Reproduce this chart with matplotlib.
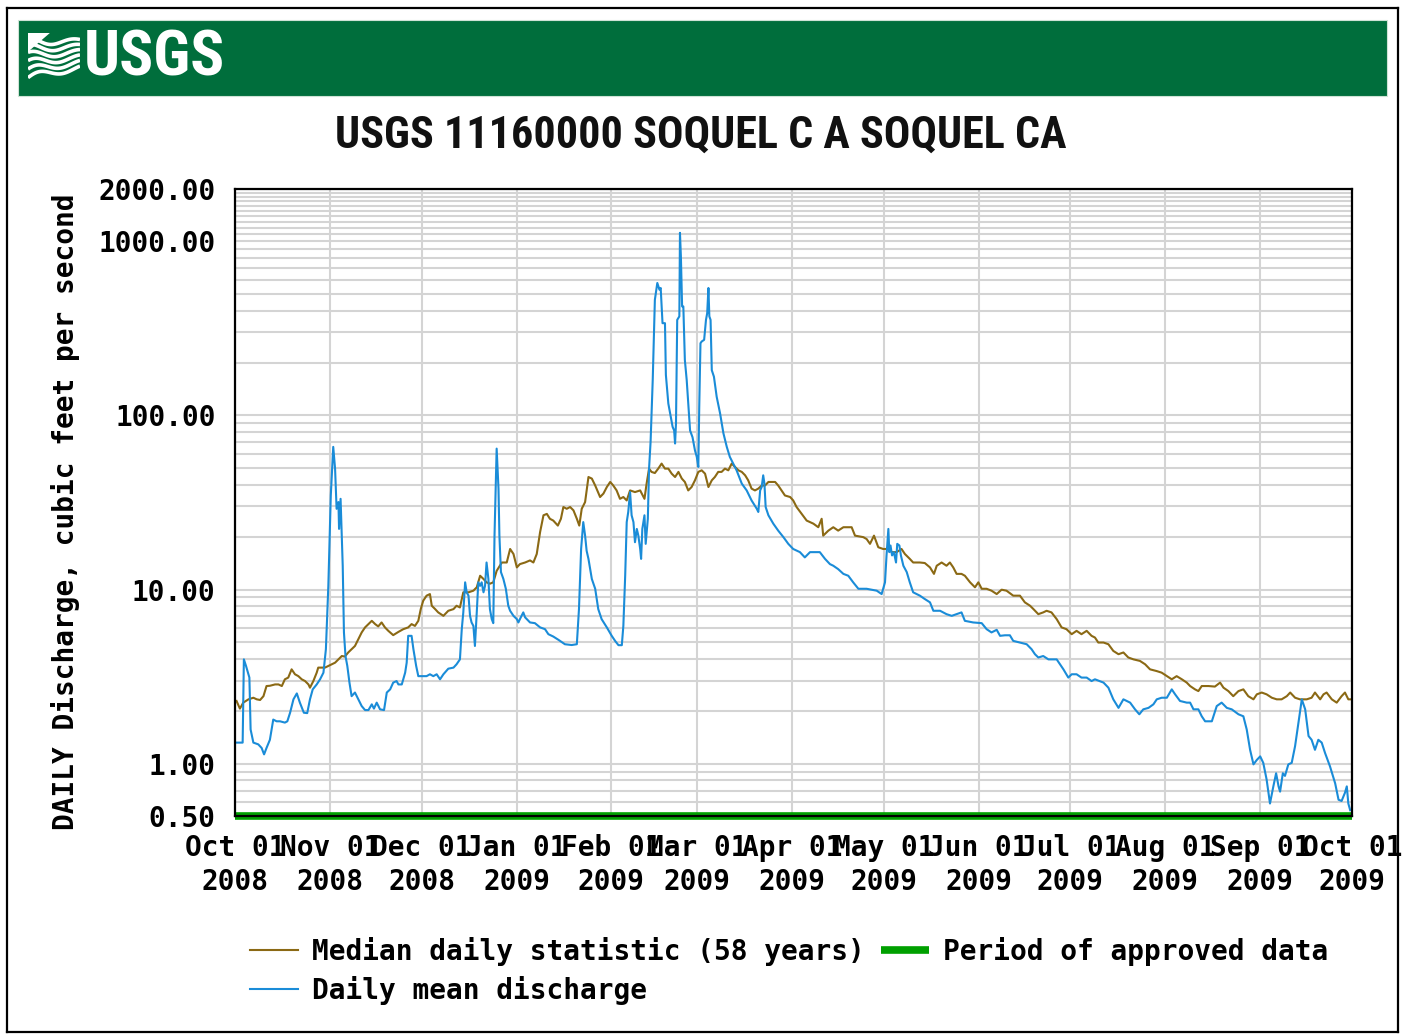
import numpy as np
import pandas as pd
import matplotlib
matplotlib.use("Agg")
import matplotlib.pyplot as plt
from matplotlib.lines import Line2D
from matplotlib.ticker import FixedLocator

# ---------------- data ----------------
station_title = "USGS 11160000 SOQUEL C A SOQUEL CA"
water_year_start = "2008-10-01"
water_year_end = "2009-10-01"

# days since 2008-10-01 and discharge (cubic feet per second)
daily_day = [
    0.5, 2.5, 2.9, 3.6, 4.7, 5.1, 6.0, 7.6, 8.7, 9.5, 10.3, 11.4, 12.5, 13.6, 14.7, 16.3, 17.1,
    18.0, 19.1, 20.2, 21.2, 22.5, 23.6, 24.5, 25.4, 26.7, 27.8, 28.9, 29.7, 30.5, 31.3, 32.1,
    32.7, 33.2, 33.8, 34.0, 34.5, 35.2, 35.6, 36.1, 36.7, 37.4, 38.1, 39.2, 40.3, 41.4, 42.5,
    43.6, 44.7, 45.4, 46.3, 47.4, 48.7, 49.6, 50.7, 51.7, 52.8, 53.4, 54.5, 55.6, 56.1, 56.6,
    57.7, 58.3, 59.2, 59.9, 61.0, 62.6, 63.7, 64.8, 65.9, 67.0, 68.1, 69.7, 71.4, 72.4,
    73.5, 74.1, 74.6, 75.2, 75.7, 76.3, 76.8, 77.3, 77.9, 78.4, 79.0, 79.5, 80.1, 80.6, 81.2,
    81.7, 82.2, 82.8, 83.3, 83.9, 84.4, 84.8, 85.5, 86.1, 86.4, 86.9, 87.7, 88.5, 89.3, 89.9,
    91.0, 92.1, 92.6, 93.1, 94.2, 94.8, 96.4, 98.0, 99.7, 101.3, 102.4, 104.0, 105.7, 107.8,
    110.0, 111.7, 112.4, 113.1, 113.8, 114.4, 114.9, 115.5, 116.6, 117.7, 118.7, 119.8, 121.5,
    123.1, 124.2, 125.3, 126.4, 126.9, 127.5, 128.0, 128.5, 129.1, 129.6, 130.2, 130.7, 131.3,
    131.8, 132.4, 132.7, 133.1, 133.8, 134.2, 134.9, 135.3, 135.8,
    136.5, 137.2, 138.0, 138.7, 139.1, 139.7, 140.5, 140.8, 141.6, 142.4, 143.0, 143.5, 143.8,
    144.1, 144.5, 145.2, 145.4, 145.7, 146.1, 146.5, 147.0, 147.6, 148.1, 148.7, 149.5, 150.3,
    150.9, 151.4, 151.7, 152.1, 152.5, 153.3, 153.9, 154.3, 154.7, 155.0, 155.4, 155.8, 156.5,
    157.4, 158.5, 159.6, 160.7, 161.7, 162.8, 163.9, 165.6, 167.2, 168.8, 170.5, 171.0, 171.6,
    172.1, 172.6, 173.0, 173.4, 174.3, 175.9, 177.5, 179.2, 180.8, 182.4, 184.6, 186.2, 187.9,
    191.1, 192.8, 194.4, 195.5, 197.1, 198.8, 200.4, 202.0, 203.7, 206.4, 209.7, 211.3, 212.4,
    212.9, 213.5, 213.8, 214.2, 214.7, 215.3, 216.0, 216.4, 217.1, 217.6, 218.4, 219.5, 220.5,
    221.6, 223.8, 225.4, 227.1, 228.2, 230.4, 232.5, 234.2, 235.8, 237.4, 238.5, 241.2, 244.0,
    245.6, 247.2, 248.9, 250.0, 251.6, 253.2, 254.3, 256.5, 258.7, 260.3, 261.4, 262.5, 264.1,
    265.8, 268.5, 270.7, 272.3, 273.4, 275.0, 276.6, 278.3, 279.9,
    281.0, 283.8, 285.4, 287.0, 288.7, 290.3, 292.5, 294.1, 295.5, 296.8, 298.5, 300.1, 301.2,
    302.8, 304.5, 306.1, 307.2, 308.8, 311.0, 312.1, 313.2, 314.8, 315.9, 317.0, 319.2, 320.8,
    322.4, 324.1, 325.7, 327.9, 329.5, 330.6, 331.7, 332.8, 333.9, 335.0, 336.0, 337.1, 338.2,
    339.3, 340.2, 341.0, 341.5, 342.4, 343.1, 344.2, 345.3, 346.4, 347.5, 348.6, 349.7, 350.8,
    351.8, 352.9, 354.0, 355.1, 356.2, 357.8, 359.5, 360.6, 361.6, 362.7, 363.3, 363.8, 364.4,
]
daily_cfs = [
    1.32, 1.32, 3.97, 3.64, 3.12, 1.57, 1.32, 1.29, 1.23, 1.13, 1.23, 1.37, 1.79, 1.75, 1.75, 1.72, 1.75,
    1.96, 2.34, 2.53, 2.24, 1.96, 1.95, 2.34, 2.67, 2.85, 3.05, 3.33, 4.54, 10.5, 34.7, 66.0,
    49.5, 29.1, 31.8, 22.3, 33.2, 13.7, 5.67, 4.15, 3.64, 2.92, 2.44, 2.56, 2.34, 2.14, 2.03,
    2.03, 2.19, 2.07, 2.24, 2.05, 2.03, 2.56, 2.67, 2.92, 2.98, 2.85, 2.85, 3.33, 3.80, 5.42,
    5.42, 4.54, 3.64, 3.18, 3.18, 3.18, 3.26, 3.18, 3.26, 3.05, 3.26, 3.51, 3.56, 3.72,
    3.97, 5.92, 7.39, 11.0, 9.64, 9.22, 7.06, 6.47, 6.18, 4.74, 7.39, 11.0, 10.5, 11.0, 9.64,
    10.5, 14.3, 11.5, 7.72, 6.76, 6.41, 20.4, 64.5, 38.0, 20.4, 12.6, 11.5, 10.1, 8.07, 7.55,
    7.06, 6.76, 6.47, 6.76, 7.39, 6.92, 6.47, 6.41, 6.06, 5.92, 5.54, 5.37, 5.14, 4.85,
    4.80, 4.85, 7.72, 17.1, 24.4, 20.4, 16.7, 15.0, 11.5, 10.1, 7.72, 6.76, 6.06,
    5.42, 5.07, 4.79, 4.79, 6.18, 12.0, 24.4, 27.9, 36.3, 26.7, 24.4, 18.7, 22.3,
    20.4, 17.1, 15.0, 22.3, 26.7, 18.3, 25.5, 49.5, 70.5,
    160, 462, 577, 528, 540, 339, 339, 171, 117, 98, 86, 82, 69,
    90, 354, 371, 1120, 822, 423, 423, 208, 160, 117, 82, 75, 63,
    57.8, 50.6, 112, 260, 266, 272, 354, 387, 540, 371, 354, 182, 167,
    128, 103, 79, 66, 57.8, 52.9, 48.4, 40.6, 37.1, 32.5, 29.1, 27.9, 37.1,
    38.8, 45.3, 40.6, 29.8, 26.7, 23.9, 21.8, 20.0, 18.3, 17.1, 16.4, 15.3, 16.4,
    16.4, 15.0, 14.0, 13.7, 13.1, 12.3, 12.0, 11.0, 10.1, 10.1, 9.85, 9.42, 11.0,
    15.7, 22.3, 16.4, 17.9, 15.7, 16.4, 14.3, 18.3, 17.9, 15.7, 13.7, 12.6, 11.0,
    9.64, 9.22, 8.82, 8.44, 7.55, 7.55, 7.22, 7.06, 7.22, 7.39, 6.61, 6.47, 6.41,
    5.92, 5.67, 5.87, 5.42, 5.46, 5.46, 5.07, 4.96, 4.85, 4.54, 4.25, 4.07, 4.15,
    3.97, 3.97, 3.48, 3.12, 3.26, 3.26, 3.12, 3.12, 2.98,
    3.05, 2.92, 2.73, 2.34, 2.09, 2.34, 2.24, 2.05, 1.92, 2.05, 2.09, 2.19, 2.34,
    2.39, 2.39, 2.67, 2.50, 2.29, 2.24, 2.24, 2.05, 2.05, 1.87, 1.75, 1.75, 2.14,
    2.24, 2.09, 2.05, 1.92, 1.87, 1.57, 1.20, 0.99, 1.05, 1.10, 1.01, 0.81, 0.59,
    0.74, 0.88, 0.74, 0.69, 0.88, 0.85, 0.99, 1.01, 1.26, 1.72, 2.34, 2.05, 1.44,
    1.37, 1.20, 1.37, 1.32, 1.15, 0.965, 0.77, 0.62, 0.61, 0.68, 0.74, 0.59, 0.54,
]

median_day = [
    0.5, 1.6, 2.7, 4.4, 6.0, 7.1, 8.2, 9.3, 10.3, 11.4, 13.1, 14.2, 15.3, 16.3, 17.4, 18.5, 19.6,
    20.7, 21.8, 22.9, 24.0, 24.5, 25.6, 26.7, 27.2, 28.3, 29.4, 30.5, 31.6, 32.7, 33.8, 34.9,
    35.9, 37.0, 38.1, 39.2, 40.3, 41.4, 42.5, 43.6, 44.7, 45.8, 46.8, 47.9, 49.0, 50.1, 51.7,
    53.4, 55.0, 56.6, 57.7, 58.8, 59.9, 60.7, 61.5, 62.6, 63.7, 64.3, 65.4, 66.4, 68.1, 69.7,
    71.4, 72.4,
    73.5, 74.6, 76.3, 77.9, 79.0, 80.1, 81.2, 82.2, 83.3, 84.4, 85.5, 87.2, 88.8, 89.9, 91.0,
    92.1, 93.1, 94.8, 96.4, 97.5, 98.6, 99.7, 100.8, 101.9, 102.9, 104.0, 105.5, 106.5, 107.3,
    108.4, 109.5, 110.6, 111.7, 112.5, 113.3, 114.4, 115.5, 116.6, 117.7, 119.3, 120.4, 121.5,
    122.6, 123.6, 124.7, 125.8, 126.9, 128.0, 129.1, 130.7, 132.4, 133.8, 134.5, 135.3,
    136.1, 137.2, 138.3, 139.4, 140.5, 141.6, 142.7, 143.8, 144.9, 146.0, 147.0, 148.1, 149.2,
    150.3, 151.4, 152.5, 153.6, 154.7, 155.8, 156.8, 157.9, 159.0, 160.1, 161.2, 162.3, 163.4,
    164.5, 165.6, 166.7, 167.7, 168.8, 169.9, 171.0, 172.1, 173.2, 174.3, 175.4, 176.5, 177.5,
    178.6, 179.7, 181.4, 182.4, 183.5,
    185.2, 186.8, 189.0, 190.6, 191.7, 192.2, 193.9, 195.5, 197.1, 198.8, 201.5, 202.6, 205.3,
    206.4, 207.5, 208.8, 210.2, 211.8, 213.5, 214.6, 216.2, 217.8, 218.9, 220.5, 221.6, 223.8,
    225.4, 227.1, 228.4, 229.3, 230.9, 232.5, 233.6, 234.7, 235.8, 237.4, 238.5, 240.2, 241.8,
    242.9, 244.0, 245.6, 247.2, 248.9, 250.5, 252.1, 254.3, 256.5, 258.1, 259.8, 260.9, 262.5,
    264.1, 265.2, 266.8, 268.5, 270.1, 271.7, 273.4, 275.0, 276.6, 278.3, 279.9,
    281.0, 282.1, 283.8, 285.4, 287.0, 288.7, 290.3, 291.9, 293.6, 295.7, 297.4, 299.0, 301.2,
    302.8, 304.5, 306.1, 307.7, 309.4, 311.0, 312.1, 313.7, 314.8, 315.9, 318.1, 320.2, 321.9,
    323.0, 324.6, 326.2, 327.9, 329.5, 331.1, 332.8, 333.9, 335.5, 337.1, 338.8, 340.4, 342.0,
    343.7, 344.8, 346.4, 348.0, 350.2, 351.8, 352.9, 354.6, 355.7, 356.7, 358.4, 360.0, 361.6,
    362.7, 363.8, 364.4,
]
median_cfs = [
    2.29, 2.07, 2.24, 2.34, 2.39, 2.34, 2.32, 2.44, 2.79, 2.80, 2.85, 2.85, 2.79, 3.05, 3.12, 3.48, 3.26,
    3.18, 3.05, 2.98, 2.85, 2.73, 2.98, 3.33, 3.56, 3.56, 3.56, 3.64, 3.72, 3.80, 3.97, 4.15,
    4.12, 4.35, 4.54, 4.74, 5.18, 5.67, 6.06, 6.33, 6.61, 6.33, 6.14, 6.47, 6.06, 5.79, 5.47,
    5.71, 5.92, 6.06, 6.33, 6.18, 6.61, 7.72, 8.62, 9.22, 9.42, 8.07, 7.72, 7.39, 7.06, 7.55,
    7.72, 8.07,
    7.89, 9.64, 9.64, 9.85, 10.3, 12.0, 11.5, 11.0, 10.8, 11.0, 12.8, 14.3, 14.3, 17.1, 16.0,
    13.4, 14.0, 14.3, 14.7, 14.3, 16.0, 21.4, 26.7, 27.2, 25.5, 24.9, 23.3, 25.5, 29.8,
    29.1, 29.8, 28.5, 25.5, 23.3, 29.1, 31.8, 44.3, 43.4, 39.6, 34.0, 35.6, 38.8,
    41.5, 39.6, 37.1, 33.2, 34.0, 32.5, 37.1, 36.3, 37.1, 33.2, 40.6, 49.5,
    47.4, 46.7, 49.5, 52.9, 49.5, 49.5, 46.3, 44.3, 47.4, 43.4, 41.5, 37.1, 38.8,
    42.4, 47.4, 48.4, 46.3, 38.8, 42.4, 44.3, 47.4, 47.4, 49.5, 48.4, 52.9, 50.6,
    48.4, 47.4, 45.3, 42.4, 38.0, 37.1, 38.0, 39.6, 39.6, 41.5, 41.5, 41.5, 39.6,
    37.1, 34.7, 34.0, 32.5, 29.8,
    27.2, 24.9, 23.9, 22.8, 25.5, 20.4, 21.8, 22.8, 21.8, 22.8, 22.8, 20.4, 20.0,
    19.5, 18.3, 20.4, 17.5, 17.1, 17.1, 16.4, 16.4, 17.1, 16.0, 15.0, 14.3, 14.3,
    14.2, 13.4, 12.3, 13.7, 14.3, 13.7, 14.3, 13.4, 12.3, 12.3, 12.0, 11.0, 10.3,
    11.0, 10.1, 10.1, 9.85, 9.42, 9.98, 9.85, 9.22, 9.22, 8.44, 8.07, 7.72, 7.22,
    7.39, 7.55, 7.39, 6.76, 6.06, 5.92, 5.54, 5.79, 5.54, 5.79, 5.42,
    5.30, 4.96, 4.96, 4.85, 4.44, 4.25, 4.35, 4.07, 3.97, 3.89, 3.72, 3.48, 3.40,
    3.33, 3.18, 3.05, 3.18, 3.05, 2.92, 2.79, 2.67, 2.61, 2.79, 2.79, 2.77, 2.92,
    2.73, 2.61, 2.44, 2.61, 2.67, 2.44, 2.34, 2.50, 2.56, 2.50, 2.39, 2.34, 2.34,
    2.44, 2.56, 2.39, 2.34, 2.34, 2.39, 2.56, 2.34, 2.50, 2.56, 2.34, 2.24, 2.44,
    2.56, 2.34, 2.34,
]

y_major_ticks = [0.5, 1, 10, 100, 1000, 2000]
legend_labels = ["Median daily statistic (58 years)", "Daily mean discharge",
                 "Period of approved data"]
y_axis_label = "DAILY Discharge, cubic feet per second"

# ---------------- style ----------------
USGS_GREEN = "#006e3c"
MEDIAN_COLOR = "#8b6914"
DAILY_COLOR = "#1a8cd8"
APPROVED_COLOR = "#00a000"
GRID_COLOR = "#d4d4d4"
MONO = ["DejaVu Sans Mono"]
NARROW = ["Roboto Condensed", "DejaVu Sans"]
MONO_SIZE = 20

W, H = 1408, 1034
fig = plt.figure(figsize=(W / 100, H / 100), dpi=100)
fig.patch.set_facecolor("white")


def fx(px):
    return px / W


def fy(py):
    return 1 - py / H


# page frame
for xs, ys in [((7, 7), (8, 1032)), ((7, 1398), (8, 8)), ((1398, 1398), (8, 1032)),
               ((7, 1398), (1032, 1032))]:
    fig.add_artist(Line2D([fx(xs[0]), fx(xs[1])], [fy(ys[0]), fy(ys[1])],
                          color="black", lw=1.6, transform=fig.transFigure))

# banner
banner = plt.Rectangle((fx(18), fy(96)), fx(1387) - fx(18), fy(20) - fy(96),
                       transform=fig.transFigure, facecolor=USGS_GREEN,
                       edgecolor="#cfe3d6", lw=0.8, zorder=-1)
fig.add_artist(banner)

# wave mark of the logo
logo_ax = fig.add_axes([fx(28), fy(80), fx(80) - fx(28), fy(33) - fy(80)])
logo_ax.set_zorder(3)
logo_ax.patch.set_alpha(0)
logo_ax.set_xlim(0, 1)
logo_ax.set_ylim(0, 1)
logo_ax.axis("off")
t = np.linspace(0, 1, 80)
for i in range(6):
    base = 0.05 + i * 0.155
    amp = 0.09 * (1 - 0.5 * t)
    yy = base + amp * np.sin(2 * np.pi * (1.1 * t + 0.05 * i)) + 0.22 * t * (1 - i / 5.0)
    logo_ax.plot(t, np.clip(yy, 0, 1), color="white", lw=2.6, solid_capstyle="butt")
logo_ax.fill([0, 0.42, 0], [1.0, 1.0, 0.6], color="white", lw=0)

fig.text(fx(84), fy(58), "USGS", color="white", fontsize=45.5, fontweight="bold",
         family=NARROW, ha="left", va="center")

# title
fig.text(fx(701), fy(136), station_title, fontsize=31.8, fontweight="bold",
         family=NARROW, ha="center", va="center", color="#111111")

# ---------------- main axes ----------------
ax = fig.add_axes([fx(235), fy(816), fx(1352) - fx(235), fy(189) - fy(816)])
start = pd.Timestamp(water_year_start)
end = pd.Timestamp(water_year_end)
daily_dates = start + pd.to_timedelta(np.array(daily_day), unit="D")
median_dates = start + pd.to_timedelta(np.array(median_day), unit="D")

ax.set_yscale("log")
ax.set_ylim(0.5, 2000)
ax.set_xlim(start, end)

(median_line,) = ax.plot(median_dates, median_cfs, color=MEDIAN_COLOR, lw=1.5,
                         label=legend_labels[0], zorder=3)
(daily_line,) = ax.plot(daily_dates, daily_cfs, color=DAILY_COLOR, lw=1.5,
                        label=legend_labels[1], zorder=4)
(approved_line,) = ax.plot([start, end], [0.5, 0.5], color=APPROVED_COLOR, lw=5.5,
                           solid_capstyle="butt", clip_on=False, zorder=5,
                           label=legend_labels[2])

# grid: months on x, 1-2-...-9 steps per decade on y
month_starts = pd.date_range(start, end, freq="MS")
ax.set_xticks(month_starts)
ax.set_xticklabels([d.strftime("%b %d\n%Y") for d in month_starts])
minor_vals = [k * 0.1 for k in range(6, 10)]
for dec in (1, 10, 100):
    minor_vals += [k * dec for k in range(2, 10)]
minor_vals += list(range(1100, 2000, 100))
ax.yaxis.set_major_locator(FixedLocator(y_major_ticks))
ax.yaxis.set_minor_locator(FixedLocator(minor_vals))
ax.set_yticklabels([f"{v:.2f}" for v in y_major_ticks])
ax.yaxis.set_minor_formatter(plt.NullFormatter())
ax.grid(True, which="both", axis="y", color=GRID_COLOR, lw=1.5)
ax.grid(True, which="major", axis="x", color=GRID_COLOR, lw=1.5)
ax.set_axisbelow(True)
ax.tick_params(which="both", length=0)
ax.tick_params(axis="y", pad=14)
ax.tick_params(axis="x", pad=13)
for lab in ax.get_xticklabels() + ax.get_yticklabels():
    lab.set_family(MONO)
    lab.set_fontweight("bold")
    lab.set_fontsize(MONO_SIZE)
    lab.set_color("black")
for lab in ax.get_xticklabels():
    lab.set_linespacing(1.25)

for side, sp in ax.spines.items():
    sp.set_color("black")
    sp.set_linewidth(1.6)
    sp.set_zorder(6)

ax.set_ylabel(y_axis_label, family=MONO, fontweight="bold", fontsize=MONO_SIZE)
ax.yaxis.set_label_coords((80 - 235) / 1117, (816 - 512) / 627)

# legend
fig.legend(handles=[median_line, daily_line, approved_line], ncol=2,
           loc="upper left", bbox_to_anchor=(fx(250), fy(937)), frameon=False,
           prop={"family": MONO, "weight": "bold", "size": MONO_SIZE},
           handlelength=1.73, handletextpad=0.5, columnspacing=0.6,
           labelspacing=0.35, borderpad=0, borderaxespad=0)

fig.savefig("out.png", dpi=100, facecolor="white")
